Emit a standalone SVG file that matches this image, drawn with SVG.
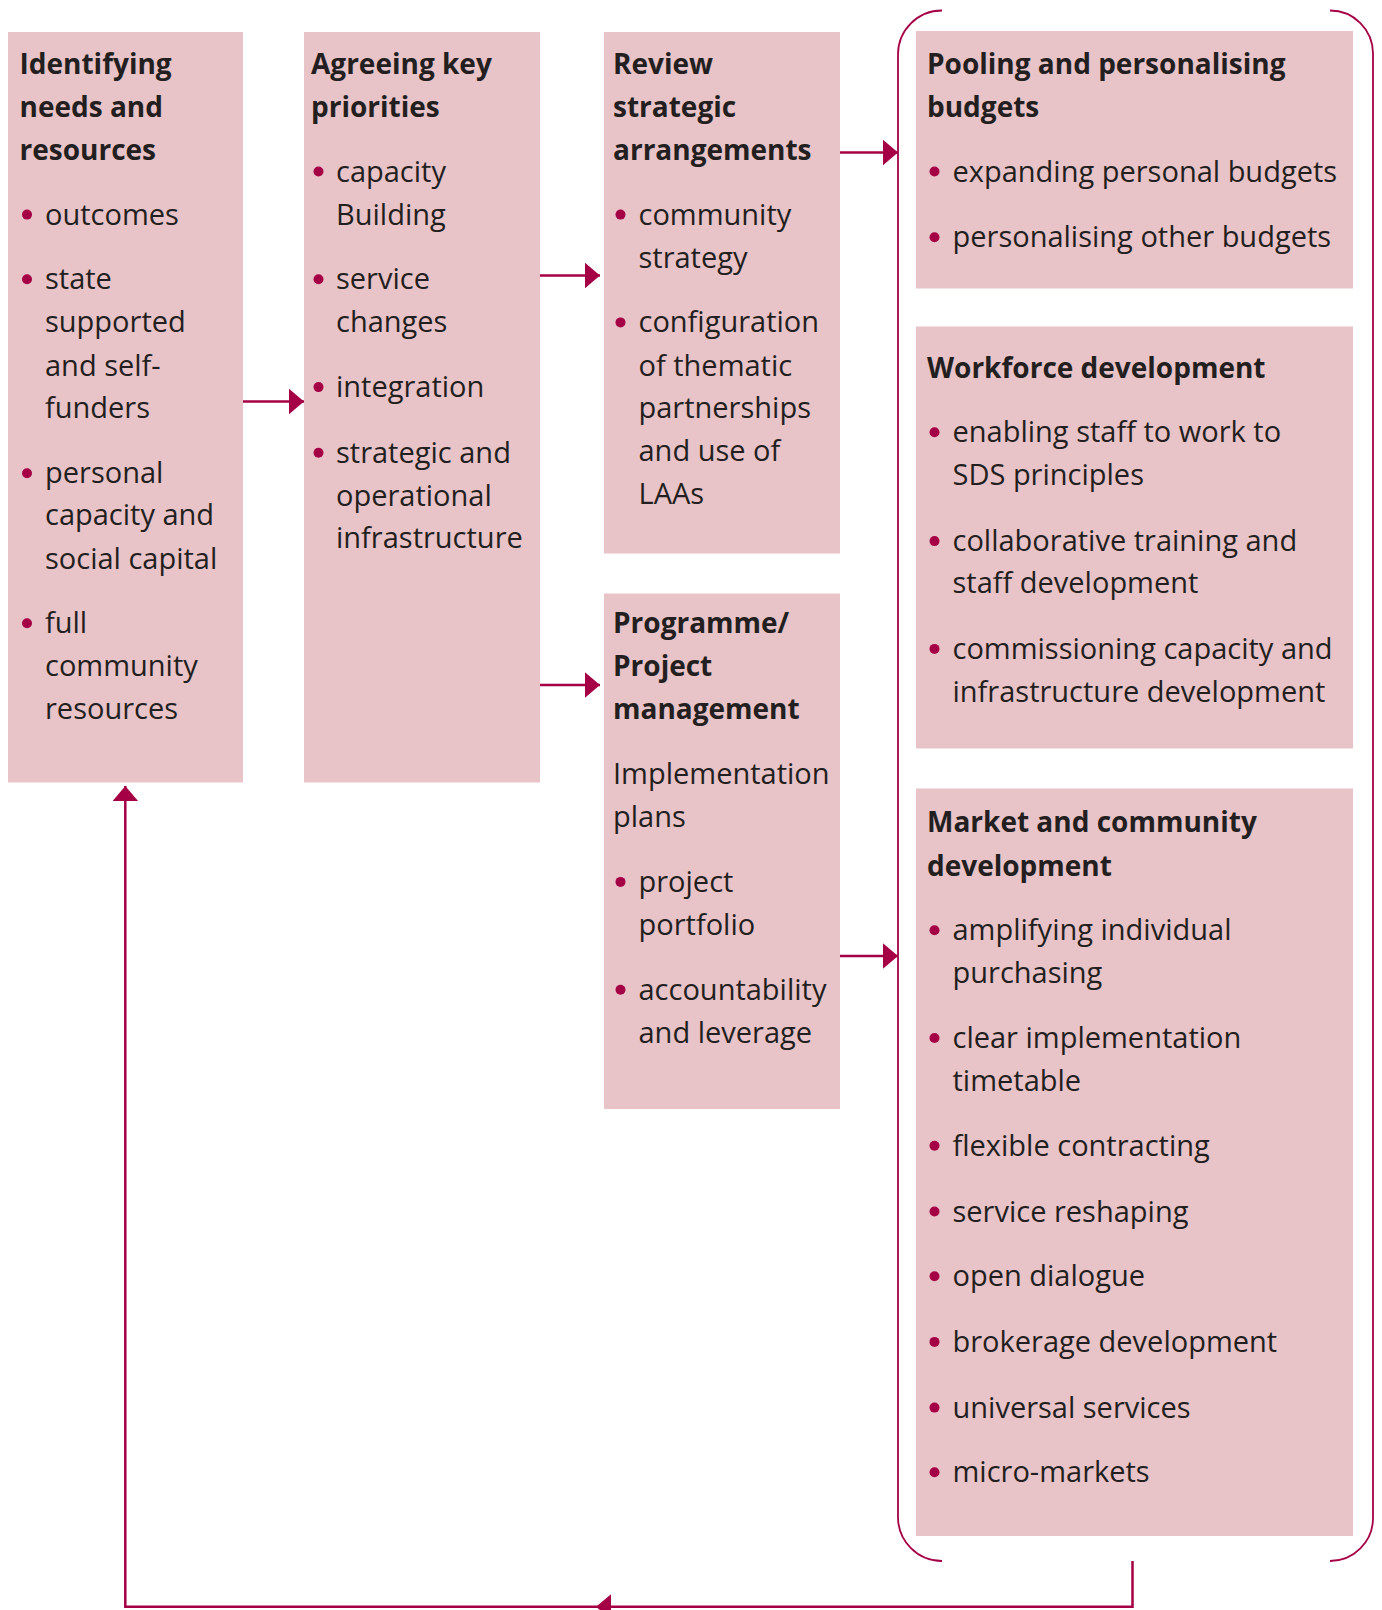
<svg xmlns="http://www.w3.org/2000/svg" width="1382" height="1610" viewBox="0 0 1382 1610">
<style>
.box{fill:#e8c3c8}
.h{font-family:"Open Sans","Liberation Sans",sans-serif;font-weight:700;font-size:28px;fill:#231f20}
.t{font-family:"Open Sans","Liberation Sans",sans-serif;font-size:29px;fill:#231f20}
.dot{fill:#a50046}
.ln{fill:none;stroke:#a50046;stroke-width:2.5}
.br{fill:none;stroke:#a50046;stroke-width:1.8}
.ah{fill:#a50046}
</style>
<defs>
<marker id="arr" markerUnits="userSpaceOnUse" markerWidth="15" markerHeight="26" refX="15" refY="12.75" orient="auto">
<path d="M0,0 L15,12.75 L0,25.5 z" fill="#a50046"/>
</marker>
</defs>
<rect width="1382" height="1610" fill="#ffffff"/>

<g id="connectors">
<line class="ln" x1="243" y1="401.5" x2="304" y2="401.5" marker-end="url(#arr)"/>
<line class="ln" x1="540" y1="275.5" x2="600" y2="275.5" marker-end="url(#arr)"/>
<line class="ln" x1="540" y1="685" x2="600" y2="685" marker-end="url(#arr)"/>
<line class="ln" x1="840" y1="152.5" x2="898" y2="152.5" marker-end="url(#arr)"/>
<line class="ln" x1="840" y1="956" x2="898" y2="956" marker-end="url(#arr)"/>
<polyline class="ln" points="1132.5,1561 1132.5,1606.8 125.3,1606.8 125.3,786" marker-end="url(#arr)"/>
<polygon class="ah" points="596,1606.8 611,1594.2 611,1619.4"/>
</g>

<g id="bracket">
<path class="br" d="M942,10.5 A44,44 0 0 0 898,54.5 L898,1517 A44,44 0 0 0 942,1561"/>
<path class="br" d="M1330,10.5 A43,43 0 0 1 1373,53.5 L1373,1518 A43,43 0 0 1 1330,1561"/>
</g>

<g id="identifying">
<rect class="box" x="8" y="32" width="235" height="750.5"/>
<text class="h" x="19.5" y="73.7">Identifying</text>
<text class="h" x="19.5" y="116.8">needs and</text>
<text class="h" x="19.5" y="159.9">resources</text>
<circle class="dot" cx="27" cy="214.6" r="5"/>
<text class="t" x="45" y="224.6">outcomes</text>
<circle class="dot" cx="27" cy="279.3" r="5"/>
<text class="t" x="45" y="289.3">state</text>
<text class="t" x="45" y="332.4">supported</text>
<text class="t" x="45" y="375.5">and self-</text>
<text class="t" x="45" y="417.6">funders</text>
<circle class="dot" cx="27" cy="473.3" r="5"/>
<text class="t" x="45" y="483.3">personal</text>
<text class="t" x="45" y="525.4">capacity and</text>
<text class="t" x="45" y="568.5">social capital</text>
<circle class="dot" cx="27" cy="623.2" r="5"/>
<text class="t" x="45" y="633.2">full</text>
<text class="t" x="45" y="676.3">community</text>
<text class="t" x="45" y="719.4">resources</text>
</g>

<g id="agreeing">
<rect class="box" x="304" y="32" width="236" height="750.5"/>
<text class="h" x="311" y="73.7">Agreeing key</text>
<text class="h" x="311" y="116.8">priorities</text>
<circle class="dot" cx="318.5" cy="171.5" r="5"/>
<text class="t" x="336" y="181.5">capacity</text>
<text class="t" x="336" y="224.6">Building</text>
<circle class="dot" cx="318.5" cy="279.3" r="5"/>
<text class="t" x="336" y="289.3">service</text>
<text class="t" x="336" y="332.4">changes</text>
<circle class="dot" cx="318.5" cy="387.1" r="5"/>
<text class="t" x="336" y="397.1">integration</text>
<circle class="dot" cx="318.5" cy="452.8" r="5"/>
<text class="t" x="336" y="462.8">strategic and</text>
<text class="t" x="336" y="505.9">operational</text>
<text class="t" x="336" y="548">infrastructure</text>
</g>

<g id="review">
<rect class="box" x="604" y="32" width="236" height="521.5"/>
<text class="h" x="613" y="73.7">Review</text>
<text class="h" x="613" y="116.8">strategic</text>
<text class="h" x="613" y="159.9">arrangements</text>
<circle class="dot" cx="620.5" cy="214.6" r="5"/>
<text class="t" x="638.5" y="224.6">community</text>
<text class="t" x="638.5" y="267.7">strategy</text>
<circle class="dot" cx="620.5" cy="322.4" r="5"/>
<text class="t" x="638.5" y="332.4">configuration</text>
<text class="t" x="638.5" y="375.5">of thematic</text>
<text class="t" x="638.5" y="417.6">partnerships</text>
<text class="t" x="638.5" y="460.7">and use of</text>
<text class="t" x="638.5" y="503.8">LAAs</text>
</g>

<g id="programme">
<rect class="box" x="604" y="593.5" width="236" height="515.5"/>
<text class="h" x="613" y="633.2">Programme/</text>
<text class="h" x="613" y="676.3">Project</text>
<text class="h" x="613" y="719.4">management</text>
<text class="t" x="613" y="784.1">Implementation</text>
<text class="t" x="613" y="827.3">plans</text>
<circle class="dot" cx="620.5" cy="881.9" r="5"/>
<text class="t" x="638.5" y="891.9">project</text>
<text class="t" x="638.5" y="935">portfolio</text>
<circle class="dot" cx="620.5" cy="989.7" r="5"/>
<text class="t" x="638.5" y="999.7">accountability</text>
<text class="t" x="638.5" y="1042.9">and leverage</text>
</g>

<g id="pooling">
<rect class="box" x="916" y="31" width="437" height="257.5"/>
<text class="h" x="927" y="73.7">Pooling and personalising</text>
<text class="h" x="927" y="116.8">budgets</text>
<circle class="dot" cx="934.5" cy="171.5" r="5"/>
<text class="t" x="952.5" y="181.5">expanding personal budgets</text>
<circle class="dot" cx="934.5" cy="237.2" r="5"/>
<text class="t" x="952.5" y="247.2">personalising other budgets</text>
</g>

<g id="workforce">
<rect class="box" x="916" y="326.5" width="437" height="422"/>
<text class="h" x="927" y="377.6">Workforce development</text>
<circle class="dot" cx="934.5" cy="432.2" r="5"/>
<text class="t" x="952.5" y="442.2">enabling staff to work to</text>
<text class="t" x="952.5" y="485.4">SDS principles</text>
<circle class="dot" cx="934.5" cy="541.1" r="5"/>
<text class="t" x="952.5" y="551.1">collaborative training and</text>
<text class="t" x="952.5" y="593.2">staff development</text>
<circle class="dot" cx="934.5" cy="648.9" r="5"/>
<text class="t" x="952.5" y="658.9">commissioning capacity and</text>
<text class="t" x="952.5" y="702">infrastructure development</text>
</g>

<g id="market">
<rect class="box" x="916" y="788.5" width="437" height="747.5"/>
<text class="h" x="927" y="832.4">Market and community</text>
<text class="h" x="927" y="875.5">development</text>
<circle class="dot" cx="934.5" cy="930.2" r="5"/>
<text class="t" x="952.5" y="940.2">amplifying individual</text>
<text class="t" x="952.5" y="983.3">purchasing</text>
<circle class="dot" cx="934.5" cy="1038" r="5"/>
<text class="t" x="952.5" y="1048">clear implementation</text>
<text class="t" x="952.5" y="1091.1">timetable</text>
<circle class="dot" cx="934.5" cy="1145.8" r="5"/>
<text class="t" x="952.5" y="1155.8">flexible contracting</text>
<circle class="dot" cx="934.5" cy="1211.5" r="5"/>
<text class="t" x="952.5" y="1221.5">service reshaping</text>
<circle class="dot" cx="934.5" cy="1276.2" r="5"/>
<text class="t" x="952.5" y="1286.2">open dialogue</text>
<circle class="dot" cx="934.5" cy="1341.9" r="5"/>
<text class="t" x="952.5" y="1351.9">brokerage development</text>
<circle class="dot" cx="934.5" cy="1407.6" r="5"/>
<text class="t" x="952.5" y="1417.6">universal services</text>
<circle class="dot" cx="934.5" cy="1472.3" r="5"/>
<text class="t" x="952.5" y="1482.3">micro-markets</text>
</g>
</svg>
